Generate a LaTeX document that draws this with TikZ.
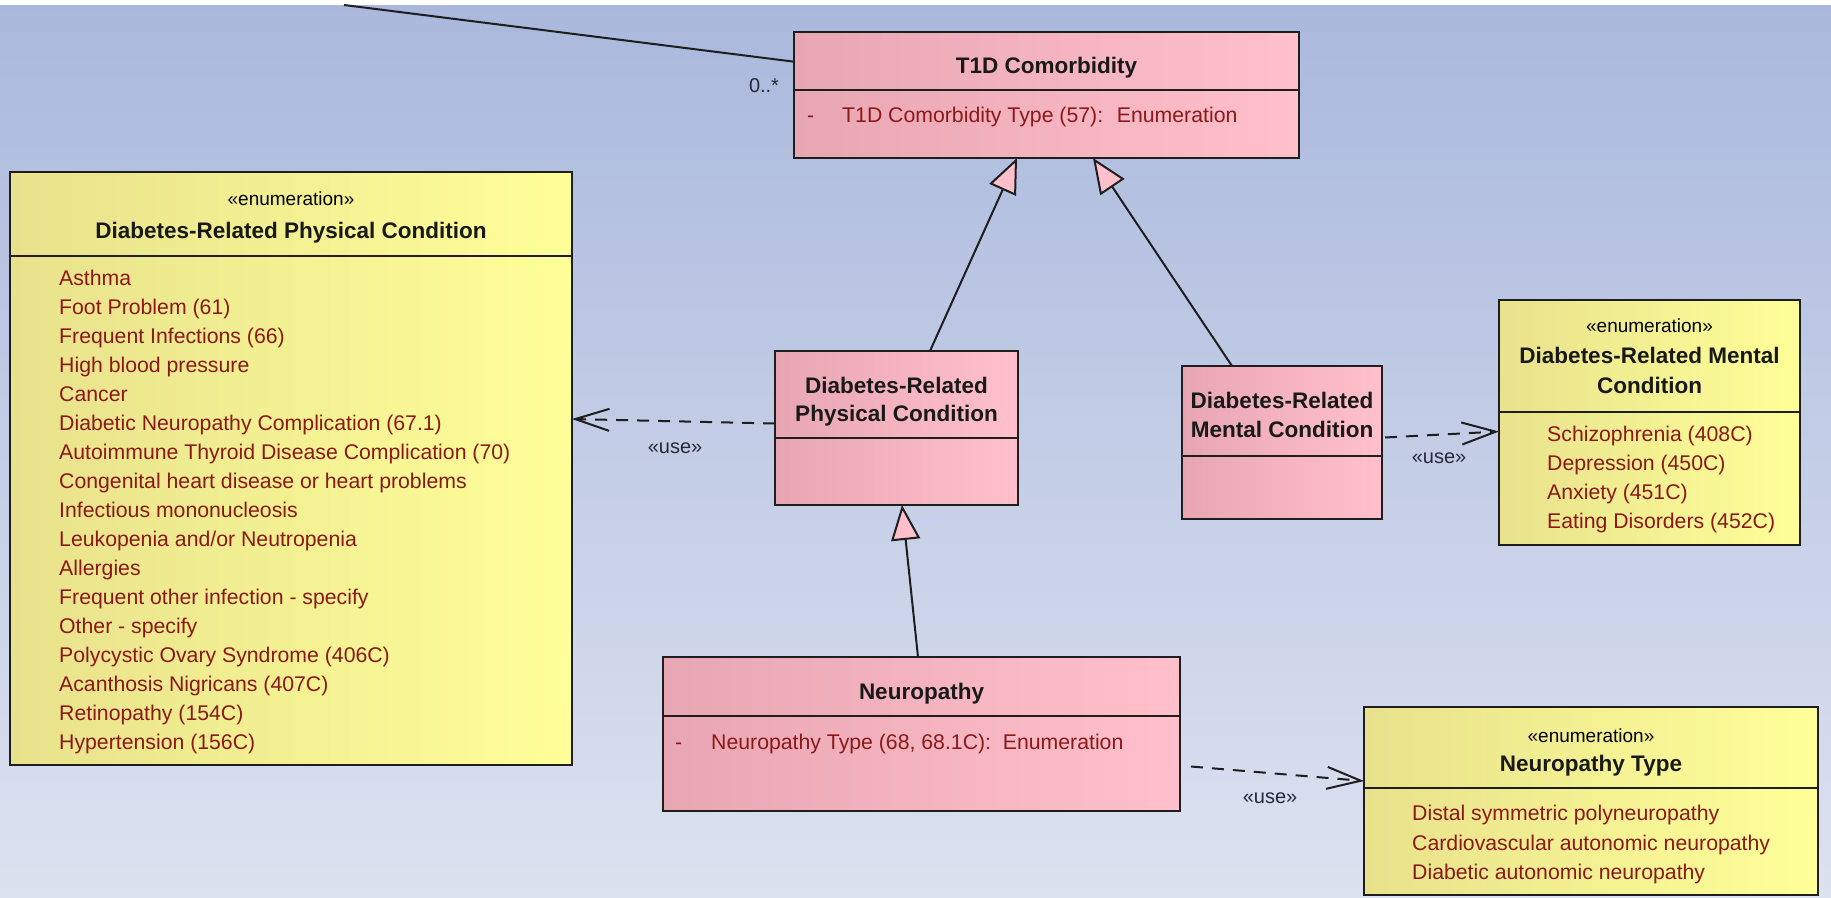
\documentclass[tikz,border=0pt]{standalone}
\usepackage{fontspec}
\setmainfont{Liberation Sans}
\usetikzlibrary{arrows.meta,calc}
\definecolor{bgtop}{RGB}{169,184,220}
\definecolor{bgbot}{RGB}{221,226,240}
\definecolor{pinkL}{RGB}{232,166,179}
\definecolor{pinkR}{RGB}{255,192,203}
\definecolor{yelL}{RGB}{232,226,140}
\definecolor{yelR}{RGB}{255,255,153}
\definecolor{itemred}{RGB}{140,24,24}
\definecolor{edgecol}{RGB}{30,30,30}
\definecolor{lblcol}{RGB}{40,40,55}
\newcommand\cdItemFont{\fontsize{21.25}{29}\selectfont}
\newcommand\cdTitleFont{\fontsize{22.5}{28}\selectfont\bfseries}
\newcommand\cdStereoFont{\fontsize{19}{24}\selectfont}
\newcommand\cdLblFont{\fontsize{20}{24}\selectfont}
\tikzset{
  classbox/.style={draw=edgecol, line width=2.4pt, rectangle, inner sep=0pt, outer sep=0pt, anchor=north west},
  pinkbox/.style={classbox, left color=pinkL, right color=pinkR},
  yelbox/.style={classbox, left color=yelL, right color=yelR},
  divline/.style={draw=edgecol, line width=2.4pt},
  titletext/.style={inner sep=0pt, anchor=base, font=\cdTitleFont, text=black!90},
  stereotext/.style={inner sep=0pt, anchor=base, font=\cdStereoFont, text=black},
  itemtext/.style={inner sep=0pt, anchor=base west, font=\cdItemFont, text=itemred},
  lbltext/.style={inner sep=0pt, anchor=base, font=\cdLblFont, text=lblcol},
  gen/.style={draw=edgecol, line width=2pt, -{Triangle[length=35pt,width=29pt,fill=pinkR]}},
  usearrow/.style={draw=edgecol, line width=2pt, dash pattern=on 12pt off 9pt, -{Straight Barb[length=34pt,width=22pt]}},
  assoc/.style={draw=edgecol, line width=2pt}
}
\begin{document}
\begin{tikzpicture}[x=1pt,y=-1pt]
\useasboundingbox (0,0) rectangle (1831,897);
\shade[top color=bgtop, bottom color=bgbot] (0,0) rectangle (1831,897);
\fill[white] (0,0) rectangle (1831,5);

% ---- T1D Comorbidity
\node[pinkbox, minimum width=505pt, minimum height=126pt] (t1d) at (794,32) {};
\draw[divline] (t1d.west |- 0,90) -- (t1d.east |- 0,90);
\node[titletext] (t1dtitle) at (1046.5,73) {T1D Comorbidity};
\node[itemtext] (t1dvis) at (807,122.6) {-};
\node[itemtext] (t1dattr) at (842,122.6) {T1D Comorbidity Type (57):~ Enumeration};

% ---- Physical enumeration
\node[yelbox, minimum width=562pt, minimum height=593pt] (phys) at (10,172) {};
\draw[divline] (phys.west |- 0,256) -- (phys.east |- 0,256);
\node[stereotext] (physst) at (291,205) {«enumeration»};
\node[titletext] (phystitle) at (291,238) {Diabetes-Related Physical Condition};
\foreach \t [count=\i from 0] in {{Asthma},{Foot Problem (61)},{Frequent Infections (66)},{High blood pressure},{Cancer},{Diabetic Neuropathy Complication (67.1)},{Autoimmune Thyroid Disease Complication (70)},{Congenital heart disease or heart problems},{Infectious mononucleosis},{Leukopenia and/or Neutropenia},{Allergies},{Frequent other infection - specify},{Other - specify},{Polycystic Ovary Syndrome (406C)},{Acanthosis Nigricans (407C)},{Retinopathy (154C)},{Hypertension (156C)}}
  \node[itemtext] (phys\i) at (59,{285.6+29*\i}) {\t};

% ---- Diabetes-Related Physical Condition (class)
\node[pinkbox, minimum width=243pt, minimum height=154pt] (drpc) at (775,351) {};
\draw[divline] (drpc.west |- 0,438) -- (drpc.east |- 0,438);
\node[titletext] (drpctitleA) at (896.5,393) {Diabetes-Related};
\node[titletext] (drpctitleB) at (896.5,421) {Physical Condition};

% ---- Diabetes-Related Mental Condition (class)
\node[pinkbox, minimum width=200pt, minimum height=153pt] (drmc) at (1182,366) {};
\draw[divline] (drmc.west |- 0,456) -- (drmc.east |- 0,456);
\node[titletext] (drmctitleA) at (1282,408) {Diabetes-Related};
\node[titletext] (drmctitleB) at (1282,437) {Mental Condition};

% ---- Mental enumeration
\node[yelbox, minimum width=301pt, minimum height=245pt] (mental) at (1499,300) {};
\draw[divline] (mental.west |- 0,412) -- (mental.east |- 0,412);
\node[stereotext] (mentalst) at (1649.5,332) {«enumeration»};
\node[titletext] (mentaltitleA) at (1649.5,363) {Diabetes-Related Mental};
\node[titletext] (mentaltitleB) at (1649.5,393) {Condition};
\foreach \t [count=\i from 0] in {{Schizophrenia (408C)},{Depression (450C)},{Anxiety (451C)},{Eating Disorders (452C)}}
  \node[itemtext] (mental\i) at (1547,{441+29*\i}) {\t};

% ---- Neuropathy (class)
\node[pinkbox, minimum width=517pt, minimum height=154pt] (neuro) at (663,657) {};
\draw[divline] (neuro.west |- 0,716) -- (neuro.east |- 0,716);
\node[titletext] (neurotitle) at (921.5,699.7) {Neuropathy};
\node[itemtext] (neurovis) at (675,749.3) {-};
\node[itemtext] (neuroattr) at (711,749.3) {Neuropathy Type (68, 68.1C):~ Enumeration};

% ---- Neuropathy Type enumeration
\node[yelbox, minimum width=454pt, minimum height=188pt] (nt) at (1364,707) {};
\draw[divline] (nt.west |- 0,788) -- (nt.east |- 0,788);
\node[stereotext] (ntst) at (1591,742) {«enumeration»};
\node[titletext] (nttitle) at (1591,771) {Neuropathy Type};
\foreach \t [count=\i from 0] in {{Distal symmetric polyneuropathy},{Cardiovascular autonomic neuropathy},{Diabetic autonomic neuropathy}}
  \node[itemtext] (nt\i) at (1412,{820.6+29.5*\i}) {\t};

% ---- Association
\coordinate (assocfree) at (344,5);
\draw[assoc] (assocfree) -- ([yshift=33.3pt]t1d.west);
\node[lbltext] (mult) at (764,92) {0..*};

% ---- Generalizations
\draw[gen] ([xshift=33.5pt]drpc.north) -- ([xshift=-29.5pt]t1d.south);
\draw[gen] ([xshift=-50pt]drmc.north) -- ([xshift=46.5pt]t1d.south);
\draw[gen] ([xshift=-3.5pt]neuro.north) -- ([xshift=5.5pt]drpc.south);

% ---- Usage dependencies
\draw[usearrow] ([yshift=4.5pt]drpc.west) -- ([yshift=49.5pt]phys.east);
\node[lbltext] (use1) at (675,453) {«use»};
\draw[usearrow] ([xshift=3pt,yshift=5pt]drmc.east) -- ([yshift=-9pt]mental.west);
\node[lbltext] (use2) at (1439,463) {«use»};
\draw[usearrow] ([xshift=11pt,yshift=-32.5pt]neuro.east) -- ([yshift=20pt]nt.west);
\node[lbltext] (use3) at (1270,803) {«use»};
\end{tikzpicture}
\end{document}
